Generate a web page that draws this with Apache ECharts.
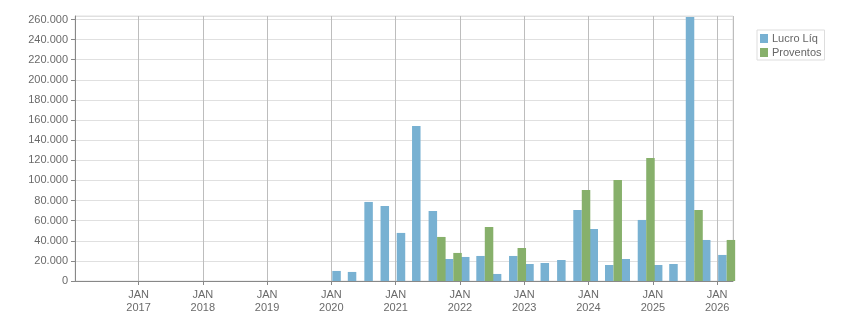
<!DOCTYPE html>
<html>
<head>
<meta charset="utf-8">
<script src="https://cdn.jsdelivr.net/npm/echarts@6/dist/echarts.min.js"></script>
<style>
html,body{margin:0;padding:0;background:#fff;}
#chart{width:851px;height:313px;}
</style>
</head>
<body>
<div id="chart"></div>
<script>
const quarterDates = [
  '2020-02-24','2020-05-22','2020-08-24','2020-11-24',
  '2021-02-24','2021-05-22','2021-08-24','2021-11-24',
  '2022-02-24','2022-05-22','2022-08-24','2022-11-24',
  '2023-02-24','2023-05-22','2023-08-24','2023-11-24',
  '2024-02-24','2024-05-22','2024-08-24','2024-11-24',
  '2025-02-24','2025-05-22','2025-08-24','2025-11-24',
  '2026-02-24'
];
const lucroLiq = [
  10000, 9000, 78600, 74600,
  47800, 154200, 69600, 21900,
  23900, 24900, 7000, 24900,
  16900, 17900, 20900, 70600,
  51700, 15900, 21900, 60700,
  15900, 16900, 262500, 40800,
  25900
];
const proventos = [
  null, null, null, null,
  null, null, 43800, 27900,
  null, 53700, null, 32800,
  null, null, null, 90500,
  null, 100500, null, 122400,
  null, null, 70600, null,
  40800
];
const seriesNames = ['Lucro Líq', 'Proventos'];
const monthLabel = 'JAN';
const axisStart = '2016-01-06';
const axisEnd = '2026-04-01';

const chart = echarts.init(document.getElementById('chart'), null, {renderer: 'canvas'});
const font = 'Liberation Sans';
function fmtThousands(v) {
  return String(Math.round(v)).replace(/\B(?=(\d{3})+(?!\d))/g, '.');
}
const DAY = 24 * 3600 * 1000;
const gridLeft = 75, gridRight = 118;
const barW = 8.5;
// ECharts widens a bar base axis so bars fit; pre-shrink the extent so the final one is axisStart..axisEnd
const axisLen = 851 - gridLeft - gridRight;
const overflow = barW * 2;
const t0 = +new Date(axisStart), t1 = +new Date(axisEnd);
const wanted = t1 - t0;
const preRange = wanted * (axisLen - overflow) / axisLen;
const shrink = (wanted - preRange) / 2;

chart.setOption({
  animation: false,
  textStyle: {fontFamily: font},
  grid: {left: gridLeft, right: gridRight, top: 16, bottom: 32, show: true, borderColor: '#e0e0e0', borderWidth: 1,
         outerBoundsMode: 'none', containLabel: false},
  legend: {
    orient: 'vertical', left: 757, top: 30,
    itemWidth: 8, itemHeight: 9, itemGap: 3,
    icon: 'rect',
    padding: [3, 3, 2, 3],
    borderColor: '#dddddd', borderWidth: 1,
    textStyle: {fontFamily: font, fontSize: 11, color: '#666', padding: [0,0,0,-1]},
    data: seriesNames
  },
  xAxis: {
    type: 'time',
    min: t0 + shrink,
    max: t1 - shrink,
    minInterval: 365 * DAY,
    maxInterval: 366 * DAY,
    axisLine: {lineStyle: {color: '#888', width: 1}},
    axisTick: {show: true, length: 4, lineStyle: {color: '#888'}},
    splitLine: {show: true, lineStyle: {color: '#bdbdbd', width: 1}},
    axisLabel: {
      fontFamily: font, fontSize: 11, color: '#6a6a6a', margin: 7, lineHeight: 13.5,
      hideOverlap: false,
      formatter: function (v) { return monthLabel + '\n' + new Date(v).getFullYear(); }
    }
  },
  yAxis: {
    type: 'value',
    min: 0, max: 263500, interval: 20000,
    axisLine: {show: true, lineStyle: {color: '#888', width: 1}},
    axisTick: {show: true, length: 4, lineStyle: {color: '#888'}},
    splitLine: {show: true, lineStyle: {color: '#e0e0e0', width: 1}},
    axisLabel: {
      fontFamily: font, fontSize: 11, color: '#6a6a6a', margin: 7,
      showMaxLabel: false,
      formatter: fmtThousands
    }
  },
  series: [
    {
      name: seriesNames[0], type: 'bar', barWidth: barW, barGap: '0%', clip: true,
      itemStyle: {color: '#78b1d2'},
      data: quarterDates.map((d, i) => [d, lucroLiq[i]])
    },
    {
      name: seriesNames[1], type: 'bar', barWidth: barW, barGap: '0%', clip: true,
      itemStyle: {color: '#87b06b'},
      data: quarterDates.map((d, i) => [d, proventos[i]])
    }
  ]
});
</script>
</body>
</html>
